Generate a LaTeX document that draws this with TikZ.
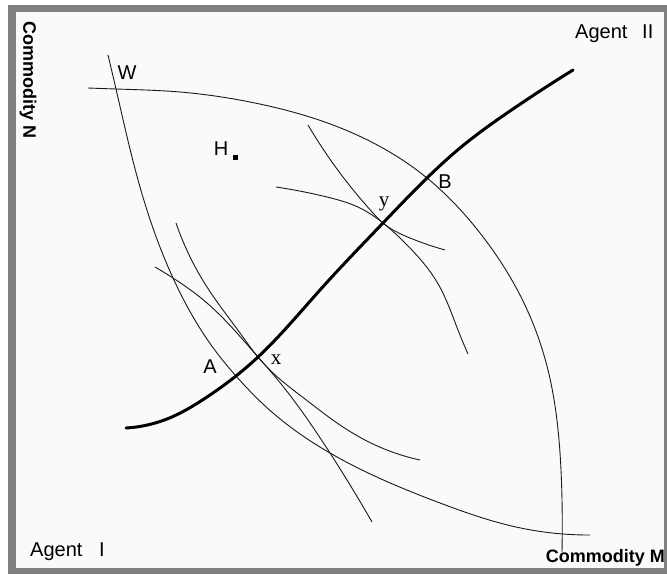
\documentclass[tikz,border=0pt]{standalone}
\usepackage{fontspec}
\usetikzlibrary{hobby}
\setmainfont{Liberation Sans}
\newfontfamily\timesfam{Liberation Serif}
\definecolor{framegray}{HTML}{808080}
\definecolor{innerbg}{HTML}{FAFAFA}
\definecolor{curvecol}{HTML}{1A1A1A}
\begin{document}
\begin{tikzpicture}[x=1pt,y=-1pt,
  icurve/.style={draw=curvecol, line width=0.9pt, use Hobby shortcut},
  contract/.style={draw=black, line width=3pt, line cap=round, use Hobby shortcut},
  lab/.style={font=\fontsize{20}{20}\selectfont, inner sep=0pt},
  boldlab/.style={font=\bfseries\fontsize{18}{18}\selectfont, inner sep=0pt},
  ptlab/.style={font=\timesfam\fontsize{21}{21}\selectfont, inner sep=0pt}]
\useasboundingbox (0,0) rectangle (667,574);
\fill[white] (0,0) rectangle (667,574);
\fill[framegray] (8,5) rectangle (667,574);
\fill[innerbg] (16,12) rectangle (664,568);

% key points
\coordinate (W) at (116,89);
\coordinate (A) at (236,376);
\coordinate (X) at (258,357);
\coordinate (Y) at (383,223);
\coordinate (B) at (427,178);

% Agent I indifference curve through W
\draw[icurve] (108,55) .. (W) .. (140,187) .. (173,278) .. (217,353) .. (A) .. (273,413) .. (330,453) .. (440,503) .. (516,527) .. (590,535);
% Agent II indifference curve through W
\draw[icurve] (88,88) .. (W) .. (180,92) .. (250,102) .. (333,125) .. (B) .. (480,233) .. (520,295) .. (548,370) .. (559,440) .. (562,500) .. (562,552);
% curves tangent at x
\draw[icurve] (176,223) .. (207,287) .. (240,333) .. (X) .. (273,373) .. (305,399) .. (340,425) .. (373,444) .. (420,460);
\draw[icurve] (155,267) .. (173,278) .. (207,303) .. (X) .. (272,373) .. (330,453) .. (372,522);
% curves tangent at y
\draw[icurve] (308,125) .. (343,177) .. (373,213) .. (Y) .. (410,238) .. (445,250);
\draw[icurve] (276,187) .. (327,197) .. (360,208) .. (Y) .. (410,248) .. (437,282) .. (458,330) .. (468,354);
% contract curve
\draw[contract] (126,428) .. (167,419) .. (207,397) .. (A) .. (X) .. (320,290) .. (Y) .. (B) .. (460,148) .. (510,111) .. (573,70);

% labels
\node[boldlab, rotate=-90] (cn) at (28,80) {Commodity N};
\node[boldlab, anchor=base east] (cm) at (665,562) {Commodity M};
\node[lab, anchor=base west] (a2) at (575,38) {Agent};
\node[lab, anchor=base west] (a2b) at (642,38) {II};
\node[lab, anchor=base west] (a1) at (30,556) {Agent};
\node[lab, anchor=base west] (a1b) at (99,556) {I};
\node[lab] (wl) at (127,73) {W};
\node[lab] (hl) at (221,149) {H};
\node[fill=black, minimum size=5pt, inner sep=0pt] (hpt) at (235,157) {};
\node[lab] (bl) at (445,182) {B};
\node[lab] (al) at (210,367) {A};
\node[ptlab, anchor=base] (xl) at (276,364) {x};
\node[ptlab, anchor=base] (yl) at (384,206) {y};
\end{tikzpicture}
\end{document}
